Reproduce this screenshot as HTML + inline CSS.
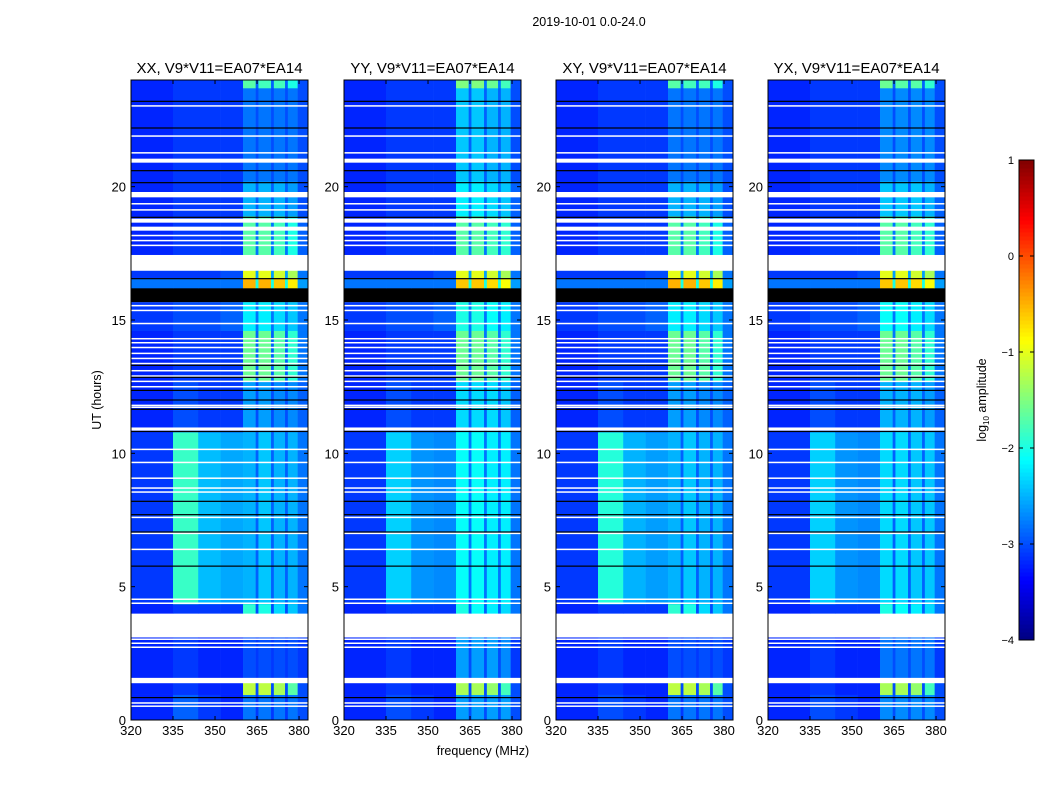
<!DOCTYPE html>
<html><head><meta charset="utf-8">
<style>
html,body{margin:0;padding:0;background:#fff;}
body{width:1050px;height:800px;overflow:hidden;font-family:"Liberation Sans","DejaVu Sans",sans-serif;}
svg text{font-family:"Liberation Sans","DejaVu Sans",sans-serif;}
</style></head>
<body>
<svg id="chart" width="1050" height="800" xmlns="http://www.w3.org/2000/svg">
<text x="589" y="26" font-size="12.5" text-anchor="middle">2019-10-01 0.0-24.0</text>
<g id="panels"></g>
<g id="cbar"></g>
<text x="483" y="755" font-size="12.5" text-anchor="middle">frequency (MHz)</text>
<text x="0" y="0" font-size="12.5" text-anchor="middle" transform="translate(101,400) rotate(-90)">UT (hours)</text>
<text x="0" y="0" font-size="12.5" text-anchor="middle" transform="translate(986,400) rotate(-90)">log<tspan font-size="8" dy="3">10</tspan><tspan dy="-3"> amplitude</tspan></text>
</svg>
<script>
const panelTitles = ["XX, V9*V11=EA07*EA14","YY, V9*V11=EA07*EA14","XY, V9*V11=EA07*EA14","YX, V9*V11=EA07*EA14"];
const freqEdges = [320,335,344,352,360,364.5,365.5,370,371,375,376,379.5,384];
const xTicks = [320,335,350,365,380];
const yTicks = [0,5,10,15,20];
const cbarTicks = [1,0,-1,-2,-3,-4];
const segStarts = [0,0.95,1.4,3.1,4.0,4.35,10.8,12.7,14.6,15.67,16.2,16.55,16.85,17.45,18.9,20.2,23.7];
const segEnds   = [0.95,1.4,3.1,4.0,4.35,10.8,12.7,14.6,15.67,16.2,16.55,16.85,17.45,18.9,20.2,23.7,24];
const rowsXX = [
 [-3.2,-2.9,-3.1,-3.2,-2.8,-3.1,-2.8,-3.1,-2.8,-3.1,-2.8,-3],
 [-3.2,-3.1,-3.2,-3.2,-1.2,-3,-1.2,-3,-1.3,-3,-1.7,-3],
 [-3.2,-3.1,-3.2,-3.2,-3.0,-3.1,-3.0,-3.1,-3.0,-3.1,-3.0,-3.1],
 null,
 [-3.2,-3.1,-3.1,-3.1,-1.9,-3,-2.0,-3,-2.3,-3,-2.4,-2.8],
 [-3.1,-1.85,-2.45,-2.55,-2.5,-2.9,-2.4,-2.9,-2.5,-2.9,-2.5,-2.8],
 [-3.2,-3.0,-3.1,-3.1,-2.6,-3,-2.6,-3,-2.7,-3,-2.7,-2.9],
 [-3.2,-3.1,-3.1,-3.1,-1.6,-2.9,-1.6,-2.9,-1.7,-2.9,-1.9,-2.8],
 [-3.1,-3.0,-3.0,-2.9,-2.2,-2.8,-2.2,-2.8,-2.3,-2.8,-2.4,-2.8],
 "black",
 [-2.8,-2.8,-2.8,-2.8,-0.5,-2,-0.5,-2,-0.6,-2,-0.8,-2.6],
 [-3.1,-3.1,-3.1,-3.0,-1.0,-2.6,-1.0,-2.6,-1.1,-2.6,-1.3,-2.8],
 null,
 [-3.2,-3.1,-3.1,-3.1,-1.7,-2.8,-1.7,-2.8,-1.8,-2.8,-2.0,-2.9],
 [-3.2,-3.1,-3.1,-3.1,-2.5,-2.9,-2.5,-2.9,-2.5,-2.9,-2.6,-3],
 [-3.2,-3.1,-3.1,-3.1,-2.8,-3,-2.8,-3,-2.8,-3,-2.8,-3],
 [-3.2,-3.1,-3.1,-3.1,-1.7,-2.9,-1.8,-2.9,-1.8,-2.9,-2.0,-3]
];
const rowsYY = [
 [-3.2,-3.0,-3.1,-3.2,-2.6,-3.0,-2.6,-3.0,-2.6,-3.0,-2.6,-3],
 [-3.2,-3.1,-3.2,-3.2,-1.3,-3,-1.3,-3,-1.4,-3,-1.8,-3],
 [-3.2,-3.1,-3.2,-3.2,-2.6,-3.0,-2.6,-3.0,-2.6,-3.0,-2.7,-3.1],
 null,
 [-3.2,-3.1,-3.1,-3.1,-2.0,-2.9,-2.1,-2.9,-2.2,-2.9,-2.3,-2.8],
 [-3.1,-2.35,-2.65,-2.7,-2.1,-2.8,-2.1,-2.8,-2.2,-2.8,-2.2,-2.8],
 [-3.2,-3.0,-3.1,-3.1,-2.3,-2.9,-2.3,-2.9,-2.3,-2.9,-2.4,-2.9],
 [-3.2,-3.1,-3.1,-3.1,-1.6,-2.8,-1.6,-2.8,-1.7,-2.8,-1.9,-2.8],
 [-3.1,-3.0,-3.0,-2.9,-2.0,-2.8,-2.0,-2.8,-2.1,-2.8,-2.2,-2.8],
 "black",
 [-2.8,-2.8,-2.8,-2.8,-0.6,-2,-0.6,-2,-0.7,-2,-0.9,-2.6],
 [-3.1,-3.1,-3.1,-3.0,-1.0,-2.6,-1.0,-2.6,-1.1,-2.6,-1.3,-2.8],
 null,
 [-3.2,-3.1,-3.1,-3.1,-1.7,-2.8,-1.7,-2.8,-1.8,-2.8,-1.9,-2.9],
 [-3.2,-3.1,-3.1,-3.1,-2.2,-2.8,-2.2,-2.8,-2.3,-2.8,-2.4,-2.9],
 [-3.2,-3.1,-3.1,-3.1,-2.4,-2.9,-2.4,-2.9,-2.5,-2.9,-2.5,-3],
 [-3.2,-3.1,-3.1,-3.1,-1.5,-2.8,-1.5,-2.8,-1.6,-2.8,-1.8,-3]
];
const rowsXY = [
 [-3.2,-3.0,-3.1,-3.2,-2.8,-3.1,-2.8,-3.1,-2.8,-3.1,-2.8,-3],
 [-3.2,-3.1,-3.2,-3.2,-1.2,-3,-1.2,-3,-1.3,-3,-1.7,-3],
 [-3.2,-3.1,-3.2,-3.2,-3.0,-3.1,-3.0,-3.1,-3.0,-3.1,-3.0,-3.1],
 null,
 [-3.2,-3.1,-3.1,-3.1,-1.9,-3,-2.0,-3,-2.3,-3,-2.4,-2.8],
 [-3.1,-1.95,-2.5,-2.6,-2.5,-2.9,-2.4,-2.9,-2.5,-2.9,-2.5,-2.8],
 [-3.2,-3.0,-3.1,-3.1,-2.6,-3,-2.6,-3,-2.7,-3,-2.7,-2.9],
 [-3.2,-3.1,-3.1,-3.1,-1.6,-2.9,-1.6,-2.9,-1.7,-2.9,-1.9,-2.8],
 [-3.1,-3.0,-3.0,-2.9,-2.2,-2.8,-2.2,-2.8,-2.3,-2.8,-2.4,-2.8],
 "black",
 [-2.8,-2.8,-2.8,-2.8,-0.5,-2,-0.5,-2,-0.6,-2,-0.8,-2.6],
 [-3.1,-3.1,-3.1,-3.0,-1.0,-2.6,-1.0,-2.6,-1.1,-2.6,-1.3,-2.8],
 null,
 [-3.2,-3.1,-3.1,-3.1,-1.7,-2.8,-1.7,-2.8,-1.8,-2.8,-2.0,-2.9],
 [-3.2,-3.1,-3.1,-3.1,-2.5,-2.9,-2.5,-2.9,-2.5,-2.9,-2.6,-3],
 [-3.2,-3.1,-3.1,-3.1,-2.8,-3,-2.8,-3,-2.8,-3,-2.8,-3],
 [-3.2,-3.1,-3.1,-3.1,-1.7,-2.9,-1.8,-2.9,-1.8,-2.9,-2.0,-3]
];
const rowsYX = [
 [-3.2,-3.0,-3.1,-3.2,-2.7,-3.0,-2.7,-3.0,-2.7,-3.0,-2.7,-3],
 [-3.2,-3.1,-3.2,-3.2,-1.3,-3,-1.3,-3,-1.4,-3,-1.8,-3],
 [-3.2,-3.1,-3.2,-3.2,-2.8,-3.0,-2.8,-3.0,-2.8,-3.0,-2.8,-3.1],
 null,
 [-3.2,-3.1,-3.1,-3.1,-2.0,-2.9,-2.1,-2.9,-2.2,-2.9,-2.3,-2.8],
 [-3.1,-2.35,-2.65,-2.7,-2.3,-2.9,-2.3,-2.9,-2.4,-2.9,-2.4,-2.8],
 [-3.2,-3.0,-3.1,-3.1,-2.5,-2.9,-2.5,-2.9,-2.5,-2.9,-2.6,-2.9],
 [-3.2,-3.1,-3.1,-3.1,-1.6,-2.8,-1.6,-2.8,-1.7,-2.8,-1.9,-2.8],
 [-3.1,-3.0,-3.0,-2.9,-2.1,-2.8,-2.1,-2.8,-2.2,-2.8,-2.3,-2.8],
 "black",
 [-2.8,-2.8,-2.8,-2.8,-0.6,-2,-0.6,-2,-0.7,-2,-0.9,-2.6],
 [-3.1,-3.1,-3.1,-3.0,-1.0,-2.6,-1.0,-2.6,-1.1,-2.6,-1.3,-2.8],
 null,
 [-3.2,-3.1,-3.1,-3.1,-1.7,-2.8,-1.7,-2.8,-1.8,-2.8,-1.9,-2.9],
 [-3.2,-3.1,-3.1,-3.1,-2.4,-2.9,-2.4,-2.9,-2.4,-2.9,-2.5,-2.9],
 [-3.2,-3.1,-3.1,-3.1,-2.7,-3,-2.7,-3,-2.7,-3,-2.7,-3],
 [-3.2,-3.1,-3.1,-3.1,-1.6,-2.9,-1.7,-2.9,-1.7,-2.9,-1.9,-3]
];
const whiteLines = [23.03,21.9,21.27,20.97,19.7,19.36,19.13,18.72,18.42,18.17,17.98,17.8,15.54,15.36,14.87,14.3,14.15,13.97,13.75,13.56,13.37,13.1,12.9,12.7,12.5,11.8,11.73,10.9,10.15,9.66,9.07,8.7,8.55,7.6,7.0,6.4,4.53,4.38,3.03,2.88,2.73,0.64,0.52];
const whiteBands = [[20.9,21.05],[19.6,19.8],[18.65,18.8],[18.35,18.5],[1.38,1.58],[10.85,10.97]];
const blackLines = [23.2,22.2,20.6,20.15,18.85,16.55,13.3,12.85,12.36,12.0,11.65,10.82,8.2,7.7,7.05,5.77,0.84];
const panelRows = [rowsXX,rowsYY,rowsXY,rowsYX];

const NS="http://www.w3.org/2000/svg";
const panelX=[131,344,556,768], PW=177, PT=80, PB=720;
const fx=(x0,f)=>x0+(f-320)*(PW/63.2);
const ty=h=>PB-h*(PB-PT)/24;
function jet(v){let t=Math.max(0,Math.min(1,(v+4)/5));
 const c=x=>Math.max(0,Math.min(1,x));
 const r=c(Math.min(4*t-1.5,-4*t+4.5)),g=c(Math.min(4*t-0.5,-4*t+3.5)),b=c(Math.min(4*t+0.5,-4*t+2.5));
 return `rgb(${Math.round(r*255)},${Math.round(g*255)},${Math.round(b*255)})`;}
function mk(tag,attrs,parent){const e=document.createElementNS(NS,tag);for(const k in attrs)e.setAttribute(k,attrs[k]);parent.appendChild(e);return e;}
const root=document.getElementById('panels');
panelRows.forEach((rows,p)=>{
 const x0=panelX[p];
 const g=mk('g',{},root);
 
 
 rows.forEach((row,s)=>{
  const y1=ty(segEnds[s]),y2=ty(segStarts[s]);
  if(row===null||row==="black"){
   const r=mk('rect',{x:x0,y:y1,width:PW,height:y2-y1,fill:row===null?'#fff':'#000'},g);
   
   
   return;}
  row.forEach((v,b)=>{
   const xa=fx(x0,freqEdges[b]),xb=Math.min(fx(x0,freqEdges[b+1]),x0+PW);
   const r=mk('rect',{x:xa,y:y1,width:xb-xa+0.3,height:y2-y1+0.3,fill:jet(v)},g);
   
   
  });
 });
 whiteBands.forEach(wb=>{const r=mk('rect',{x:x0,y:ty(wb[1]),width:PW,height:ty(wb[0])-ty(wb[1]),fill:'#fff'},g);
  
  });
 whiteLines.forEach(h=>{const r=mk('rect',{x:x0,y:ty(h)-0.7,width:PW,height:1.5,fill:'#fff'},g);
  
  });
 blackLines.forEach(h=>{const r=mk('rect',{x:x0,y:ty(h)-0.6,width:PW,height:1.2,fill:'#000'},g);
  
  });
 const fr=mk('rect',{x:x0,y:PT,width:PW,height:PB-PT,fill:'none',stroke:'#000','stroke-width':1},g);
 
 
 const t=mk('text',{x:x0+PW/2,y:73,'font-size':15,'text-anchor':'middle'},g);t.textContent=panelTitles[p];
 
 
 xTicks.forEach(f=>{const x=fx(x0,f);
  mk('line',{x1:x,x2:x,y1:PB,y2:PB-4,stroke:'#000'},g);mk('line',{x1:x,x2:x,y1:PT,y2:PT+4,stroke:'#000'},g);
  const l=mk('text',{x:x,y:PB+15,'font-size':13,'text-anchor':'middle'},g);l.textContent=f;
  
  });
 yTicks.forEach(h=>{const y=ty(h);
  mk('line',{x1:x0,x2:x0+4,y1:y,y2:y,stroke:'#000'},g);mk('line',{x1:x0+PW,x2:x0+PW-4,y1:y,y2:y,stroke:'#000'},g);
  const l=mk('text',{x:x0-5,y:y+5,'font-size':13,'text-anchor':'end'},g);l.textContent=h;
  
  });
});
const cb=document.getElementById('cbar');
const CX=1019,CW=15,CT=160,CB=640;
for(let i=0;i<120;i++){const v=-4+5*i/120;const y=CB-(i+1)*(CB-CT)/120;
 mk('rect',{x:CX,y:y,width:CW,height:(CB-CT)/120+0.5,fill:jet(v+5/240)},cb);}
mk('rect',{x:CX,y:CT,width:CW,height:CB-CT,fill:'none',stroke:'#000'},cb);
cbarTicks.forEach(v=>{const y=CB-(v+4)*(CB-CT)/5;
 mk('line',{x1:CX,x2:CX+4,y1:y,y2:y,stroke:'#000'},cb);mk('line',{x1:CX+CW,x2:CX+CW-4,y1:y,y2:y,stroke:'#000'},cb);
 const l=mk('text',{x:CX-5,y:y+4,'font-size':11,'text-anchor':'end'},cb);l.textContent=v<0?'\u2212'+(-v):v;
 
 });
</script>
</body></html>
